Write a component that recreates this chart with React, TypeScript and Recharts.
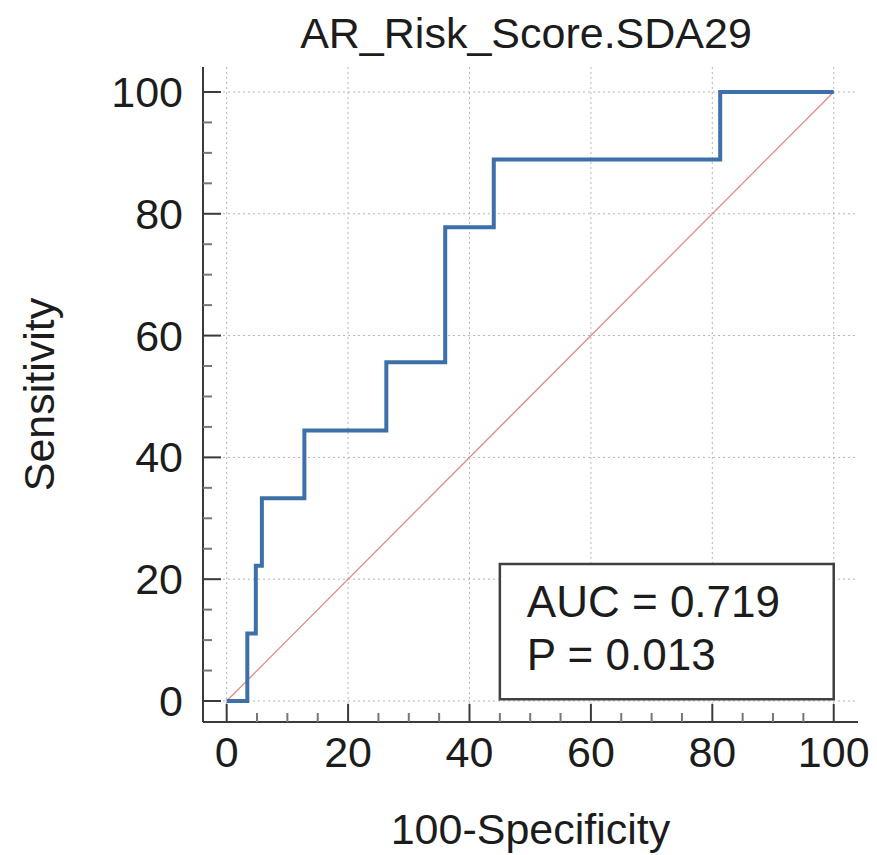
import React from "react";
import {
  LineChart,
  Line,
  XAxis,
  YAxis,
  CartesianGrid,
  ReferenceLine,
  ReferenceArea,
} from "recharts";

// ROC curve corner points, drawn as steps
const fpr = [0, 3.4, 4.8, 5.8, 12.8, 26.3, 36.0, 44.0, 81.3, 100];
const tpr = [0, 11.1, 22.2, 33.3, 44.4, 55.6, 77.8, 88.9, 100, 100];
const axisTicks = [0, 5, 10, 15, 20, 25, 30, 35, 40, 45, 50, 55, 60, 65, 70, 75, 80, 85, 90, 95, 100];
const gridValues = [0, 20, 40, 60, 80, 100];
const stats = ["AUC = 0.719", "P = 0.013"];

const rocData = fpr.map((x, i) => ({ fpr: x, tpr: tpr[i] }));

const FONT = "Arial, 'Liberation Sans', sans-serif";
const TEXT = "#1c1c1c";
const AXIS = "#3a3a3a";

const YTick = (props: any) => {
  const { x, y, payload } = props;
  const v = payload.value;
  const major = v % 20 === 0;
  return (
    <g>
      <line x1={x} x2={x + (major ? 18 : 9)} y1={y} y2={y} stroke={major ? AXIS : "#777"} strokeWidth={2} />
      {major && (
        <text x={x - 20} y={y} textAnchor="end" dominantBaseline="central" fontSize={43} fontFamily={FONT} fill={TEXT}>
          {v}
        </text>
      )}
    </g>
  );
};

const XTick = (props: any) => {
  const { x, y, payload } = props;
  const v = payload.value;
  const major = v % 20 === 0;
  return (
    <g>
      <line x1={x} x2={x} y1={y} y2={y - (major ? 18 : 9)} stroke={major ? AXIS : "#777"} strokeWidth={2} />
      {major && (
        <text x={x} y={y + 30} textAnchor="middle" dominantBaseline="central" fontSize={43} fontFamily={FONT} fill={TEXT}>
          {v}
        </text>
      )}
    </g>
  );
};

const StatsBox = (props: any) => {
  const { x, y } = props.viewBox;
  return (
    <g>
      {stats.map((s, i) => (
        <text key={s} x={x + 27} y={y + 53 + i * 53} fontSize={44} fontFamily={FONT} fill={TEXT}>
          {s}
        </text>
      ))}
    </g>
  );
};

export default function App() {
  return (
    <LineChart
      width={869}
      height={847}
      data={rocData}
      margin={{ top: 59, right: 19, bottom: 0, left: 0 }}
    >
      <text x={518} y={40} textAnchor="middle" fontSize={43} fontFamily={FONT} fill={TEXT}>
        AR_Risk_Score.SDA29
      </text>
      <CartesianGrid
        stroke="#b5b5b5"
        strokeDasharray="2 3"
        horizontalValues={gridValues}
        verticalValues={gridValues}
      />
      <XAxis
        dataKey="fpr"
        type="number"
        domain={[-3.9, 104]}
        ticks={axisTicks}
        interval={0}
        tickSize={0}
        tickMargin={0}
        height={133}
        tick={<XTick />}
        axisLine={{ stroke: AXIS, strokeWidth: 2 }}
        label={{
          value: "100-Specificity",
          position: "insideBottom",
          offset: 11,
          fontSize: 43,
          fontFamily: FONT,
          fill: TEXT,
        }}
      />
      <YAxis
        type="number"
        domain={[-3.45, 104.1]}
        ticks={axisTicks}
        interval={0}
        tickSize={0}
        tickMargin={0}
        width={195}
        tick={<YTick />}
        axisLine={{ stroke: AXIS, strokeWidth: 2 }}
        label={{
          value: "Sensitivity",
          angle: -90,
          position: "insideLeft",
          offset: 31,
          fontSize: 43,
          fontFamily: FONT,
          fill: TEXT,
          style: { textAnchor: "middle" },
        }}
      />
      <ReferenceLine
        segment={[
          { x: 0, y: 0 },
          { x: 100, y: 100 },
        ]}
        stroke="#e08a8a"
        strokeWidth={1.3}
      />
      <Line
        dataKey="tpr"
        type="stepAfter"
        stroke="#3d70a8"
        strokeWidth={4}
        dot={false}
        isAnimationActive={false}
      />
      <ReferenceArea
        x1={45}
        x2={100}
        y1={0.3}
        y2={22.5}
        fill="#ffffff"
        fillOpacity={1}
        stroke="#404040"
        strokeWidth={2.5}
        label={<StatsBox />}
      />
    </LineChart>
  );
}
